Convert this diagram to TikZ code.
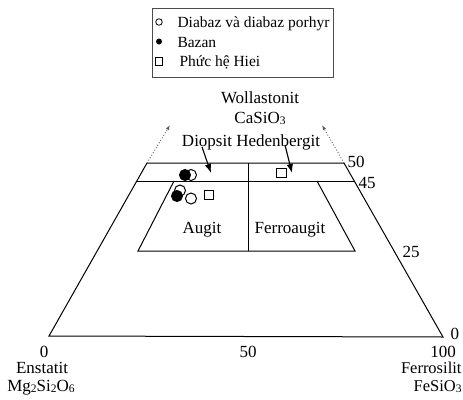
\documentclass[tikz,border=0pt]{standalone}
\usepackage{fontspec}
\setmainfont{Liberation Serif}
\usetikzlibrary{arrows.meta}
\newcommand{\lowdig}[1]{\raisebox{-1.2pt}{\fontsize{11.5}{12}\selectfont #1}}
\begin{document}
\begin{tikzpicture}[x=1pt,y=-1pt,line width=1pt,
  lbl/.style={font=\fontsize{17}{19}\selectfont,inner sep=0pt,anchor=base},
  lblw/.style={font=\fontsize{17}{19}\selectfont,inner sep=0pt,anchor=base west},
  lble/.style={font=\fontsize{16.5}{19}\selectfont,inner sep=0pt,anchor=base east},
  leg/.style={font=\fontsize{15.5}{18}\selectfont,inner sep=0pt,anchor=base west},
  popen/.style={circle,draw=black,line width=1pt,fill=white,minimum size=11pt,inner sep=0pt},
  pfill/.style={circle,draw=black,fill=black,minimum size=11pt,inner sep=0pt},
  psq/.style={rectangle,draw=black,line width=0.9pt,fill=white,minimum size=9.5pt,inner sep=0pt},
  dotln/.style={dotted,line width=0.9pt,gray!70!black,-{Latex[length=5pt,width=3.5pt]}},
  pointer/.style={line width=1.1pt,-{Latex[length=9pt,width=6.5pt]}}]
\useasboundingbox (0,0) rectangle (463,399);
% legend
\draw[line width=0.7pt,gray!60!black] (152,8) rectangle (333,77);
\node[circle,draw,line width=0.8pt,minimum size=6.5pt,inner sep=0pt] (l1) at (159,22) {};
\node[circle,fill=black,minimum size=6pt,inner sep=0pt] (l2) at (159,41.5) {};
\node[rectangle,draw,line width=0.8pt,minimum size=7.5pt,inner sep=0pt] (l3) at (159,61.5) {};
\node[leg] (t1) at (177,27) {Diabaz và diabaz porhyr};
\node[leg] (t2) at (177,47) {Bazan};
\node[leg] (t3) at (179,66) {Phức hệ Hiei};
% frame
\coordinate (BL) at (49,336);
\coordinate (BR) at (443,337);
\coordinate (TL) at (147,163);
\coordinate (TR) at (344,163);
\coordinate (ML) at (136.8,181);
\coordinate (MR) at (354,181);
\coordinate (VT) at (248,163);
\coordinate (VB) at (248,251);
\coordinate (IL) at (138,251);
\coordinate (IR) at (355,251);
\coordinate (ILt) at (174,181);
\coordinate (IRt) at (317,181);
\coordinate (DL) at (170,125);
\coordinate (DR) at (322,125);
\coordinate (A1s) at (202,147);
\coordinate (A1e) at (211,173);
\coordinate (A2s) at (285,145);
\coordinate (A2e) at (292,173);
\draw (TL) -- (BL) -- (BR) -- (TR) -- cycle;
\draw (ML) -- (MR);
\draw (VT) -- (VB);
\draw (ILt) -- (IL) -- (IR) -- (IRt);
\draw[dotln] (TL) -- (DL);
\draw[dotln] (TR) -- (DR);
\draw[pointer] (A1s) -- (A1e);
\draw[pointer] (A2s) -- (A2e);
% labels
\node[lbl] (w1) at (260,103) {Wollastonit};
\node[lbl] (w2) at (260,123) {CaSiO\lowdig{3}};
\node[lbl] (w3) at (251,146) {Diopsit Hedenbergit};
\node[lbl] (aug) at (202,233) {Augit};
\node[lbl] (fau) at (290,233) {Ferroaugit};
\node[lblw] (s50) at (347,167) {50};
\node[lblw] (s45) at (358,188) {45};
\node[lblw] (s25) at (402,257) {25};
\node[lblw] (s0) at (450,339) {0};
\node[lbl] (b0) at (44,357) {0};
\node[lbl] (en) at (42,373) {Enstatit};
\node[lbl] (mg) at (41,391) {Mg\lowdig{2}Si\lowdig{2}O\lowdig{6}};
\node[lbl] (b50) at (248,357) {50};
\node[lbl] (b100) at (443,357) {100};
\node[lble] (fs) at (462,373) {Ferrosilit};
\node[lble] (fso) at (462,391) {FeSiO\lowdig{3}};
% data points
\node[popen] (p1) at (191,175) {};
\node[pfill] (p2) at (185,175) {};
\node[popen] (p3) at (180,190.5) {};
\node[pfill] (p4) at (177,196) {};
\node[popen] (p5) at (191,198.5) {};
\node[psq] (q1) at (209,195) {};
\node[psq] (q2) at (281.5,173) {};
\end{tikzpicture}
\end{document}
